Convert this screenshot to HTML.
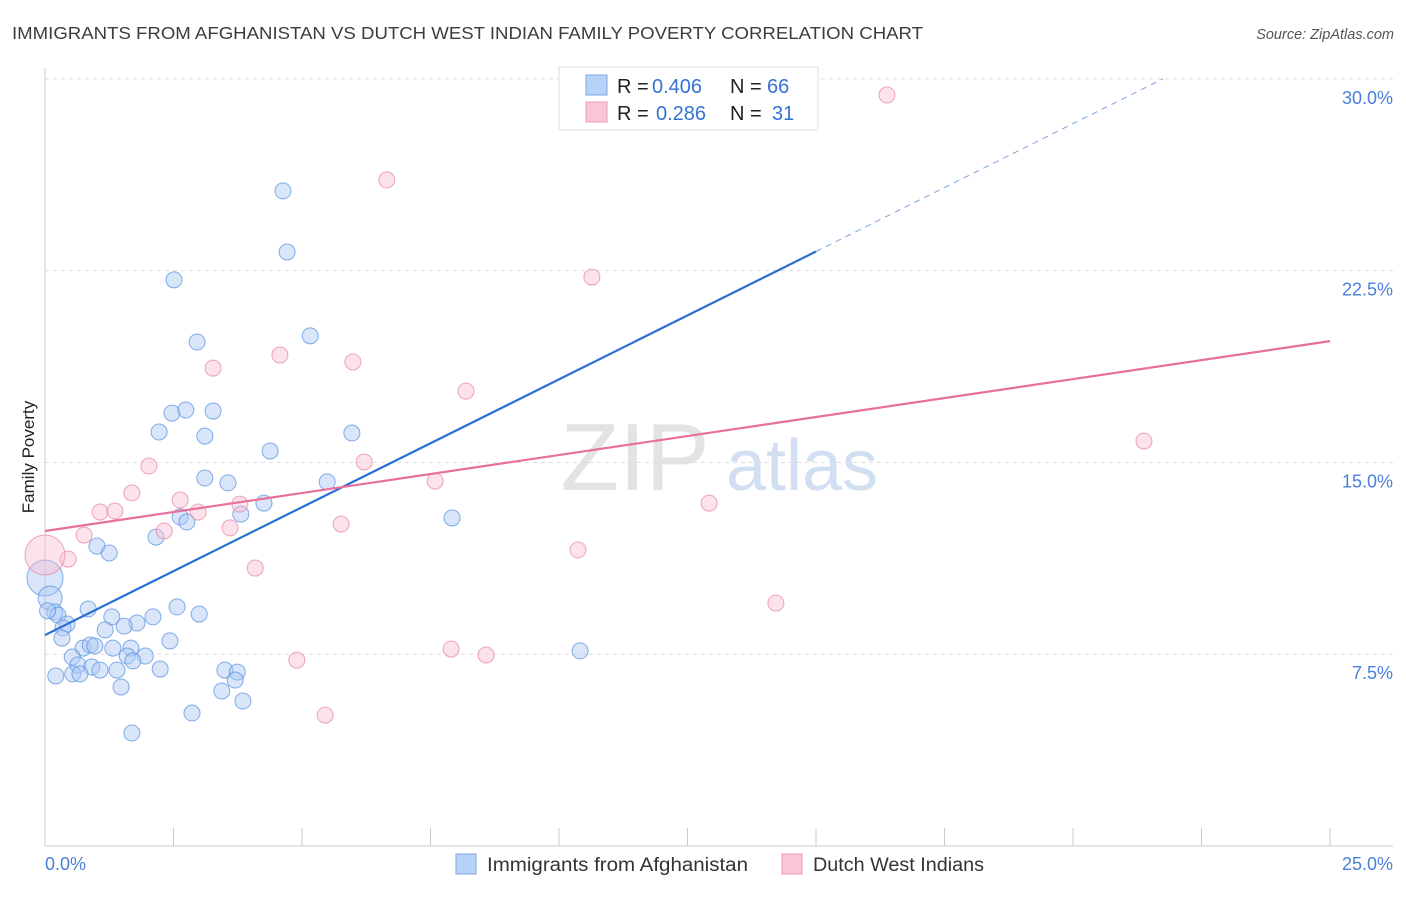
<!DOCTYPE html>
<html><head><meta charset="utf-8">
<style>
body{margin:0;background:#fff;font-family:"Liberation Sans",sans-serif;}
svg text{font-family:"Liberation Sans",sans-serif;}
</style></head>
<body>
<svg id="chart" width="1406" height="892" viewBox="0 0 1406 892" xmlns="http://www.w3.org/2000/svg">
<text x="12" y="39" font-size="17.5" fill="#3c3c3c" textLength="911" lengthAdjust="spacingAndGlyphs">IMMIGRANTS FROM AFGHANISTAN VS DUTCH WEST INDIAN FAMILY POVERTY CORRELATION CHART</text>
<text x="1394" y="39" font-size="14.5" fill="#555" font-style="italic" text-anchor="end">Source: ZipAtlas.com</text>
<g>
<text x="635" y="490" font-size="96" fill="#d8d8d8" font-family="Liberation Serif" text-anchor="middle" opacity="0.7">ZIP</text>
<text x="802" y="490" font-size="72" fill="#c7d8ef" text-anchor="middle" opacity="0.8">atlas</text>
</g>
<g id="grid"></g>
<g id="axes"></g>
<g id="points"></g>
<g id="lines"></g>
<text transform="translate(34,457) rotate(-90)" font-size="17" fill="#222" text-anchor="middle">Family Poverty</text>
<g>
<rect x="559" y="67" width="259" height="63" fill="#fff" stroke="#ddd"/>
<rect x="586" y="75" width="21" height="20" fill="#b8d2f7" stroke="#7aa7e8"/>
<rect x="586" y="102" width="21" height="20" fill="#f9c6d6" stroke="#ec9ab4"/>
<text x="617" y="93" font-size="20" fill="#222">R =</text>
<text x="652" y="93" font-size="20" fill="#3572d4">0.406</text>
<text x="730" y="93" font-size="20" fill="#222">N =</text>
<text x="767" y="93" font-size="20" fill="#3572d4">66</text>
<text x="617" y="120" font-size="20" fill="#222">R =</text>
<text x="656" y="120" font-size="20" fill="#3572d4">0.286</text>
<text x="730" y="120" font-size="20" fill="#222">N =</text>
<text x="772" y="120" font-size="20" fill="#3572d4">31</text>
</g>
<g>
<rect x="456" y="854" width="20" height="20" fill="#b8d2f7" stroke="#7aa7e8"/>
<text x="487" y="871" font-size="19" fill="#333" textLength="261" lengthAdjust="spacingAndGlyphs">Immigrants from Afghanistan</text>
<rect x="782" y="854" width="20" height="20" fill="#f9c6d6" stroke="#ec9ab4"/>
<text x="813" y="871" font-size="19" fill="#333" textLength="171" lengthAdjust="spacingAndGlyphs">Dutch West Indians</text>
</g>
</svg>
<script>
const yTicks=[7.5,15,22.5,30];
const yTickLabels=["7.5%","15.0%","22.5%","30.0%"];
const xTicks=[0,2.5,5,7.5,10,12.5,15,17.5,20,22.5,25];
const blueX=[4.63,4.71,2.51,2.96,5.16,2.47,2.74,3.27,2.22,3.11,5.97,4.38,3.11,3.56,5.49,4.26,2.63,2.76,3.81,7.92,2.16,1.01,1.25,0,0.10,0.19,0.25,0.84,1.30,2.10,2.57,3.00,0.43,0.35,1.79,1.54,1.17,2.43,0.33,0.74,0.88,1.32,1.67,0.97,0.53,1.60,1.95,1.71,0.64,0.91,1.07,1.40,2.24,3.50,3.74,10.41,0.21,0.54,0.68,3.70,1.48,3.44,3.85,2.86,1.69,0.05];
const blueY=[25.62,23.23,22.14,19.71,19.95,16.93,17.05,17.01,16.19,16.03,16.15,15.45,14.39,14.20,14.24,13.41,12.87,12.67,12.98,12.83,12.08,11.73,11.46,10.48,9.70,9.15,9.03,9.27,8.96,8.96,9.35,9.07,8.68,8.53,8.72,8.60,8.45,8.02,8.13,7.74,7.86,7.74,7.74,7.82,7.39,7.43,7.43,7.24,7.08,7.00,6.88,6.88,6.92,6.88,6.80,7.63,6.65,6.73,6.73,6.49,6.22,6.06,5.67,5.20,4.42,9.2];
const blueR=[8,8,8,8,8,8,8,8,8,8,8,8,8,8,8,8,8,8,8,8,8,8,8,18,12,8,8,8,8,8,8,8,8,8,8,8,8,8,8,8,8,8,8,8,8,8,8,8,8,8,8,8,8,8,8,8,8,8,8,8,8,8,8,8,8,8];
const pinkX=[16.38,6.65,10.64,4.57,5.99,3.27,8.19,21.38,2.02,6.21,1.69,7.59,2.63,1.07,1.36,2.98,3.79,12.92,5.76,3.60,2.32,0.76,0.45,0,10.37,4.09,14.22,7.90,8.58,4.90,5.45];
const pinkY=[29.37,26.05,22.25,19.20,18.93,18.69,17.79,15.84,14.86,15.02,13.81,14.27,13.53,13.06,13.10,13.06,13.37,13.41,12.59,12.44,12.32,12.16,11.22,11.38,11.58,10.87,9.50,7.70,7.47,7.27,5.12];
const pinkR=[8,8,8,8,8,8,8,8,8,8,8,8,8,8,8,8,8,8,8,8,8,8,8,20,8,8,8,8,8,8,8];
const blueTrend=[8.25,1.0];
const pinkTrend=[12.32,0.297];
const xs=v=>45+v*51.4, ys=v=>846-v*25.57;
const NS="http://www.w3.org/2000/svg";
function mk(p,t,a){const e=document.createElementNS(NS,t);for(const k in a)e.setAttribute(k,a[k]);p.appendChild(e);return e;}
const grid=document.getElementById('grid'),axes=document.getElementById('axes'),pts=document.getElementById('points'),lines=document.getElementById('lines');
yTicks.forEach((t,i)=>{
 const l=mk(grid,'line',{x1:45,x2:1393,y1:ys(t),y2:ys(t),stroke:'#ddd','stroke-dasharray':'4,4'});
 
 
 const tx=mk(axes,'text',{x:1393,y:ys(t)+25,'font-size':18,fill:'#4a7fd8','text-anchor':'end'});
 tx.textContent=yTickLabels[i];
 
 
});
const ya=mk(axes,'line',{x1:45,x2:45,y1:68,y2:846,stroke:'#ccc'});


const xa=mk(axes,'line',{x1:45,x2:1393,y1:846,y2:846,stroke:'#ccc'});


xTicks.forEach(t=>{const l=mk(axes,'line',{x1:xs(t),x2:xs(t),y1:828,y2:846,stroke:'#ccc'});
 
 });
[[0,'0.0%','start',45],[25,'25.0%','end',1393]].forEach(d=>{const tx=mk(axes,'text',{x:d[3],y:870,'font-size':18,fill:'#4a7fd8','text-anchor':d[2]});tx.textContent=d[1];
 
 });
blueX.forEach((v,i)=>{const c=mk(pts,'circle',{cx:xs(v),cy:ys(blueY[i]),r:blueR[i],fill:'rgba(170,200,244,0.45)',stroke:'rgba(90,145,225,0.75)','stroke-width':1});
 
 });
pinkX.forEach((v,i)=>{const c=mk(pts,'circle',{cx:xs(v),cy:ys(pinkY[i]),r:pinkR[i],fill:'rgba(248,190,208,0.45)',stroke:'rgba(232,135,168,0.75)','stroke-width':1});
 
 });
const bl=mk(lines,'line',{x1:xs(0),y1:ys(blueTrend[0]),x2:xs(15),y2:ys(blueTrend[0]+15*blueTrend[1]),stroke:'#2a6fd6','stroke-width':2.2});


const xe=(30-blueTrend[0])/blueTrend[1];
const bd=mk(lines,'line',{x1:xs(15),y1:ys(blueTrend[0]+15*blueTrend[1]),x2:xs(xe),y2:ys(30),stroke:'#7aa5e0','stroke-width':1,'stroke-dasharray':'6,5'});


const pl=mk(lines,'line',{x1:xs(0),y1:ys(pinkTrend[0]),x2:xs(25),y2:ys(pinkTrend[0]+25*pinkTrend[1]),stroke:'#e8709a','stroke-width':2.2});


</script>
</body></html>
